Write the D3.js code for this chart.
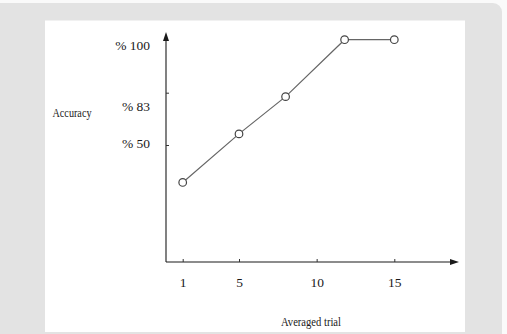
<!DOCTYPE html>
<html><head><meta charset="utf-8">
<script src="https://cdn.jsdelivr.net/npm/d3@7"></script>
<style>html,body{margin:0;padding:0;background:#fff;}svg{display:block;}</style>
</head><body>
<script>
// Data
const trials = [1, 5, 8, 11.8, 15];
const accuracy = [34, 57, 80.5, 100, 100];
const xTickValues = [1, 5, 10, 15];
const yTickValues = [50, 83];
const yLabelValues = [100, 83, 50];
const yLabelText = ["% 100", "% 83", "% 50"];
const yLabelOffset = [6, 14, -2];

const W = 507, H = 334;
const svg = d3.select("body").append("svg").attr("width", W).attr("height", H);

// background frame
svg.append("rect").attr("x", 0).attr("y", 0).attr("width", W).attr("height", H).attr("fill", "#fafafa");
svg.append("rect").attr("x", -10).attr("y", 3).attr("width", 512).attr("height", 345).attr("rx", 9).attr("fill", "#e3e3e3");
svg.append("rect").attr("x", 45).attr("y", 20.5).attr("width", 420).attr("height", 311.5).attr("fill", "#ffffff");

const x = d3.scaleLinear().domain([1, 5, 15]).range([182.7, 239, 394.3]);
const y = d3.scaleLinear().domain([0, 50, 83, 100]).range([262, 145, 92.7, 39.7]);

const axisColor = "#1a1a1a";
const textColor = "#1a1a1a";
const font = "Liberation Serif, serif";
const ox = 166, oy = 262;

// axes lines
svg.append("line").attr("x1", ox).attr("x2", ox).attr("y1", oy).attr("y2", 40)
  .attr("stroke", axisColor).attr("stroke-width", 1.1);
svg.append("line").attr("x1", ox).attr("x2", 451).attr("y1", oy).attr("y2", oy)
  .attr("stroke", axisColor).attr("stroke-width", 1.1);
// arrow heads
svg.append("path").attr("d", `M${ox},32 L${ox-3},41 L${ox+3},41 Z`).attr("fill", axisColor);
svg.append("path").attr("d", `M459,${oy} L450,${oy-3} L450,${oy+3} Z`).attr("fill", axisColor);

// x axis ticks via d3 axis
const xAxis = d3.axisTop(x).tickValues(xTickValues).tickSize(3).tickFormat("");
const gx = svg.append("g").attr("transform", `translate(0,${oy})`).call(xAxis);
gx.select(".domain").remove();
gx.selectAll(".tick line").attr("stroke", "#333");
// x labels
svg.append("g").selectAll("text").data(xTickValues).join("text")
  .attr("x", d => x(d) + 0.5).attr("y", 282).attr("dy", "0.35em")
  .attr("text-anchor", "middle")
  .attr("font-family", font).attr("font-size", 13.5).attr("fill", textColor)
  .text(d => d);

// y axis ticks
const yAxis = d3.axisRight(y).tickValues(yTickValues).tickSize(3).tickFormat("");
const gy = svg.append("g").attr("transform", `translate(${ox},0)`).call(yAxis);
gy.select(".domain").remove();
gy.selectAll(".tick line").attr("stroke", "#333");
// y labels
svg.append("g").selectAll("text").data(yLabelValues).join("text")
  .attr("x", 150).attr("y", (d, i) => y(d) + yLabelOffset[i]).attr("dy", "0.35em")
  .attr("text-anchor", "end")
  .attr("font-family", font).attr("font-size", 13.5).attr("fill", textColor)
  .text((d, i) => yLabelText[i]);

// axis titles
svg.append("text").attr("x", 52.5).attr("y", 112.5).attr("dy", "0.35em")
  .attr("textLength", 39).attr("lengthAdjust", "spacingAndGlyphs")
  .attr("font-family", font).attr("font-size", 13).attr("fill", textColor)
  .text("Accuracy");
svg.append("text").attr("x", 281).attr("y", 321.5).attr("dy", "0.35em")
  .attr("textLength", 60).attr("lengthAdjust", "spacingAndGlyphs")
  .attr("font-family", font).attr("font-size", 13).attr("fill", textColor)
  .text("Averaged trial");

// line
const pts = trials.map((t, i) => [t, accuracy[i]]);
svg.append("path").datum(pts)
  .attr("d", d3.line().x(d => x(d[0])).y(d => y(d[1])))
  .attr("fill", "none").attr("stroke", "#666").attr("stroke-width", 1.2);
svg.append("g").selectAll("circle").data(pts).join("circle")
  .attr("cx", d => x(d[0])).attr("cy", d => y(d[1])).attr("r", 3.8)
  .attr("fill", "#fff").attr("stroke", "#444").attr("stroke-width", 1.2);
</script>
</body></html>
